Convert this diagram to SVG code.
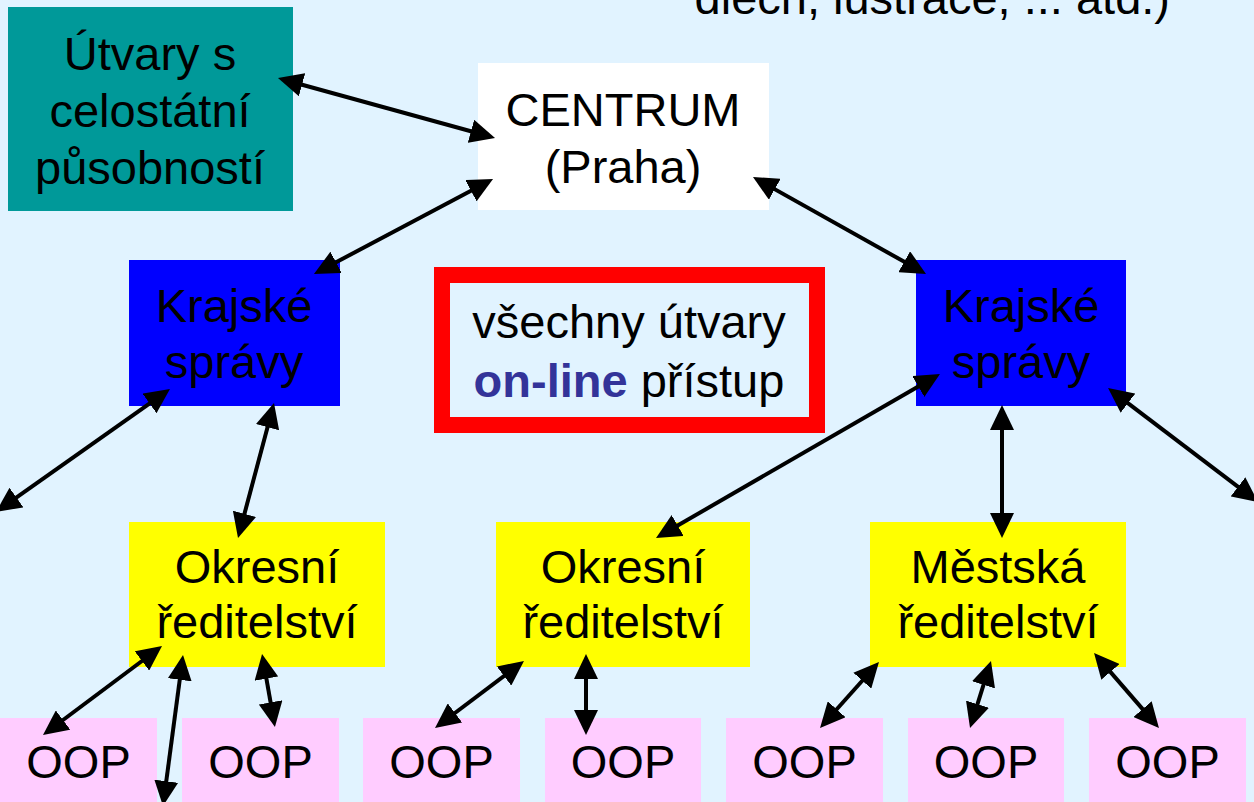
<svg xmlns="http://www.w3.org/2000/svg" width="1254" height="802" viewBox="0 0 1254 802">
  <style>
    text { font-family: "Liberation Sans", Arial, sans-serif; font-size: 47px; fill: #000; text-anchor: middle; }
    .conn line { stroke: #000; stroke-width: 4; marker-start: url(#ah); marker-end: url(#ah); }
    .teal { fill: #009999; }
    .white { fill: #FFFFFF; }
    .blue { fill: #0000FF; }
    .yellow { fill: #FFFF00; }
    .pink { fill: #FFCCFF; }
    .bold { font-weight: bold; fill: #333399; }
  </style>
  <defs>
    <marker id="ah" markerUnits="userSpaceOnUse" markerWidth="25" markerHeight="24" refX="15" refY="12" orient="auto-start-reverse">
      <path d="M0,0 L25,12 L0,24 Z" fill="#000"/>
    </marker>
  </defs>
  <rect x="0" y="0" width="1254" height="802" fill="#E1F3FF"/>

  <text x="1170" y="14" style="text-anchor:end">dlech, lustrace, ... atd.)</text>

  <g id="utvary">
    <rect class="teal" x="8" y="7" width="285" height="204"/>
    <text x="150" y="70">Útvary s</text>
    <text x="150" y="127">celostátní</text>
    <text x="150" y="184">působností</text>
  </g>
  <g id="centrum">
    <rect class="white" x="478" y="63" width="291" height="147"/>
    <text x="623" y="126">CENTRUM</text>
    <text x="623" y="183">(Praha)</text>
  </g>
  <g id="krajske1">
    <rect class="blue" x="129" y="260" width="211" height="146"/>
    <text x="234" y="322">Krajské</text>
    <text x="234" y="378">správy</text>
  </g>
  <g id="krajske2">
    <rect class="blue" x="916" y="260" width="210" height="146"/>
    <text x="1021" y="322">Krajské</text>
    <text x="1021" y="378">správy</text>
  </g>
  <g id="note">
    <rect x="442" y="275" width="375" height="150" fill="none" stroke="#FF0000" stroke-width="16"/>
    <text x="629" y="338">všechny útvary</text>
    <text x="629" y="397"><tspan class="bold">on-line</tspan> přístup</text>
  </g>
  <g id="okresni1">
    <rect class="yellow" x="129" y="522" width="256" height="145"/>
    <text x="257" y="583">Okresní</text>
    <text x="257" y="638">ředitelství</text>
  </g>
  <g id="okresni2">
    <rect class="yellow" x="496" y="522" width="254" height="145"/>
    <text x="623" y="583">Okresní</text>
    <text x="623" y="638">ředitelství</text>
  </g>
  <g id="mestska">
    <rect class="yellow" x="870" y="522" width="256" height="145"/>
    <text x="998" y="583">Městská</text>
    <text x="998" y="638">ředitelství</text>
  </g>
  <g id="oop1"><rect class="pink" x="0" y="718" width="157" height="90"/><text x="78.5" y="778">OOP</text></g>
  <g id="oop2"><rect class="pink" x="182" y="718" width="157" height="90"/><text x="260.5" y="778">OOP</text></g>
  <g id="oop3"><rect class="pink" x="363" y="718" width="157" height="90"/><text x="441.5" y="778">OOP</text></g>
  <g id="oop4"><rect class="pink" x="545" y="718" width="156" height="90"/><text x="623" y="778">OOP</text></g>
  <g id="oop5"><rect class="pink" x="726" y="718" width="157" height="90"/><text x="804.5" y="778">OOP</text></g>
  <g id="oop6"><rect class="pink" x="908" y="718" width="156" height="90"/><text x="986" y="778">OOP</text></g>
  <g id="oop7"><rect class="pink" x="1089" y="718" width="157" height="90"/><text x="1167.5" y="778">OOP</text></g>

  <g id="connectors" class="conn">
    <line x1="287.6" y1="80.7" x2="485.4" y2="135.3"/>
    <line x1="484.2" y1="183.7" x2="322.8" y2="269.3"/>
    <line x1="761.7" y1="181.9" x2="917.3" y2="269.1"/>
    <line x1="161.8" y1="394.8" x2="4.2" y2="506.2"/>
    <line x1="271.4" y1="412.7" x2="240.6" y2="528.3"/>
    <line x1="154" y1="652" x2="51" y2="729"/>
    <line x1="181.7" y1="664.9" x2="164.3" y2="796.1"/>
    <line x1="263.8" y1="663.9" x2="273.2" y2="717.1"/>
    <line x1="931.3" y1="379" x2="664.7" y2="533"/>
    <line x1="1002" y1="415" x2="1002" y2="528"/>
    <line x1="1116" y1="394.1" x2="1250" y2="495.9"/>
    <line x1="516" y1="667" x2="443" y2="722"/>
    <line x1="586" y1="664" x2="586" y2="725"/>
    <line x1="872.3" y1="669.5" x2="826.7" y2="720.5"/>
    <line x1="988" y1="670.5" x2="973" y2="718.5"/>
    <line x1="1100.6" y1="660.6" x2="1152.4" y2="720.4"/>
  </g>
</svg>
